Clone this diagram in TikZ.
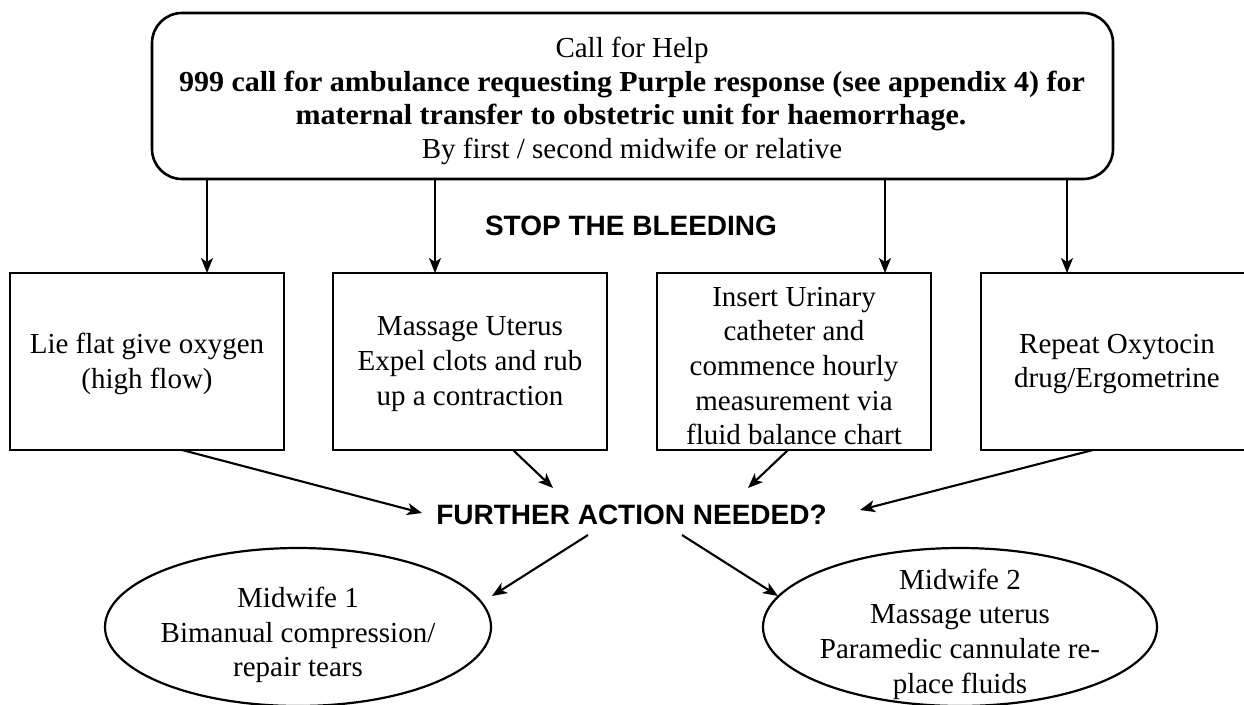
\documentclass[tikz,border=0pt]{standalone}
\usepackage{fontspec}
\setmainfont{Liberation Serif}[BoldFeatures={FakeStretch=1.035}]
\newfontfamily\hdfont{Liberation Sans}
\usetikzlibrary{shapes.geometric,arrows.meta}
\begin{document}
\begin{tikzpicture}[x=1pt,y=-1pt,
  every node/.style={inner sep=0pt,outer sep=0pt},
  txt/.style={font=\fontsize{29}{34.7}\selectfont,align=center},
  line/.style={font=\fontsize{29}{34.7}\selectfont,anchor=base},
  bline/.style={font=\bfseries\fontsize{29}{34.7}\selectfont,anchor=base},
  hd/.style={font=\hdfont\bfseries\fontsize{28}{32}\selectfont,anchor=base},
  topbox/.style={draw,line width=2.6pt,rounded corners=30pt,minimum width=961pt,minimum height=166pt},
  stepbox/.style={draw,line width=2.8pt,minimum width=274pt,minimum height=177pt},
  oval/.style={draw,ellipse,line width=2.2pt},
  arr/.style={-{Stealth[length=15pt,width=12pt,inset=4pt]},line width=2.1pt}]
\useasboundingbox (0,0) rectangle (1244,704);

% top box
\node[topbox] (top) at (632.5,96) {};
\node[line] (l1) at (632,57) {Call for Help};
\node[bline] (l2) at (632,91) {999 call for ambulance requesting Purple response (see appendix 4) for};
\node[bline] (l3) at (631,124) {maternal transfer to obstetric unit for haemorrhage.};
\node[line] (l4) at (632,158) {By first / second midwife or relative};

% STOP label
\node[hd] (stop) at (631,235) {STOP THE BLEEDING};

% step boxes
\node[stepbox] (b1) at (147,361.5) {};
\node[txt] at (147,364) {Lie flat give oxygen\\(high flow)};
\node[stepbox] (b2) at (470,361.5) {};
\node[txt] at (470,364) {Massage Uterus\\Expel clots and rub\\up a contraction};
\node[stepbox] (b3) at (794,361.5) {};
\node[txt] at (794,366) {Insert Urinary\\catheter and\\commence hourly\\measurement via\\fluid balance chart};
\node[stepbox] (b4) at (1118,361.5) {};
\node[txt] at (1117,364) {Repeat Oxytocin\\drug/Ergometrine};

% down arrows
\coordinate (x1) at (207,0);
\coordinate (x2) at (435,0);
\coordinate (x3) at (885,0);
\coordinate (x4) at (1067,0);
\draw[arr] (top.south -| x1) -- (b1.north -| x1);
\draw[arr] (top.south -| x2) -- (b2.north -| x2);
\draw[arr] (top.south -| x3) -- (b3.north -| x3);
\draw[arr] (top.south -| x4) -- (b4.north -| x4);

% further action
\node[hd] (fa) at (631.5,524) {FURTHER ACTION NEEDED?};
\coordinate (s1) at (182,0);
\coordinate (s2) at (513,0);
\coordinate (s3) at (788,0);
\coordinate (s4) at (1093,0);
\coordinate (t1) at (422,513);
\coordinate (t2) at (553,488);
\coordinate (t3) at (748,488);
\coordinate (t4) at (860,510);
\draw[arr] (b1.south -| s1) -- (t1);
\draw[arr] (b2.south -| s2) -- (t2);
\draw[arr] (b3.south -| s3) -- (t3);
\draw[arr] (b4.south -| s4) -- (t4);

% ovals
\node[oval,minimum width=386pt,minimum height=158pt] (e1) at (298,627) {};
\node[txt] at (298,635) {Midwife 1\\Bimanual compression/\\repair tears};
\node[oval,minimum width=394pt,minimum height=158pt] (e2) at (960,627) {};
\node[txt] at (960,634) {Midwife 2\\Massage uterus\\Paramedic cannulate re-\\place fluids};
\coordinate (u1) at (588,535);
\coordinate (u2) at (682,535);
\coordinate (v1) at (492,596);
\coordinate (v2) at (778,596);
\draw[arr] (u1) -- (v1);
\draw[arr] (u2) -- (v2);
\end{tikzpicture}
\end{document}
